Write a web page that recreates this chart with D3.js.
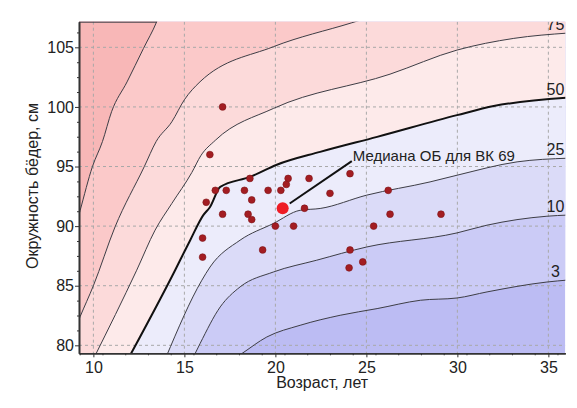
<!DOCTYPE html>
<html>
<head>
<meta charset="utf-8">
<script src="https://cdn.jsdelivr.net/npm/d3@7"></script>
<style>
  html, body { margin: 0; padding: 0; background: #fff; }
  svg { display: block; font-family: "Liberation Sans", Arial, sans-serif; }
</style>
</head>
<body>
<svg id="chart" width="577" height="408"></svg>
<script>
// Percentile curves of hip circumference (cm) against age (years), as [age, cm]
const p3  = [[17.85,79.0],[18.15,79.3],[19.53,80.7],[21.36,81.68],[23.56,82.52],[25.59,83.08],[27.97,83.78],[29.98,83.97],[31.63,84.48],[34.92,85.31],[36.1,85.48]];
const p10 = [[15.49,79.0],[15.86,80.14],[16.97,83.22],[18.06,84.9],[19.89,86.15],[22.27,87.14],[25.02,88.25],[29.98,89.43],[31.63,90.08],[34.92,90.83],[36.1,90.93]];
const p25 = [[13.99,79.0],[15.96,85.46],[16.41,86.57],[18.06,88.82],[19.89,90.22],[21.36,91.33],[22.46,91.48],[25.02,92.6],[28.5,93.71],[29.98,94.27],[33.28,95.39],[36.1,95.7]];
const p50 = [[11.96,79.0],[14.49,86.3],[15.04,87.98],[15.32,88.82],[16.04,90.92],[16.41,91.61],[16.97,93.29],[18.61,94.13],[20.08,95.15],[22.46,96.23],[25.59,97.49],[29.98,99.31],[32.0,100.07],[36.1,100.78]];
const p75 = [[10.05,79.0],[12.38,86.3],[13.39,89.66],[14.31,91.9],[15.41,94.5],[15.9,95.9],[16.7,97.2],[19.89,99.87],[26.3,102.75],[29.98,104.77],[33.1,105.75],[36.1,106.2]];
const p90 = [[9.0,81.4],[9.27,82.4],[10.0,85.0],[11.19,89.93],[12.8,95.0],[13.45,97.1],[14.31,98.75],[15.0,100.6],[15.86,102.11],[19.89,105.05],[24.2,107.06],[24.6,107.25]];
const p97 = [[9.0,89.8],[9.27,91.3],[9.95,95.0],[10.5,97.1],[11.0,99.6],[11.85,102.1],[12.75,104.9],[13.48,107.15],[13.6,107.6]];

const curveNames  = ["3", "10", "25", "50", "75", "90", "97"];
const curveData   = [p3, p10, p25, p50, p75, p90, p97];
const labelledCurves = ["75", "50", "25", "10", "3"];
// fill below the 3rd percentile, then above each curve in turn
const bandColors  = ["#bcbcf3", "#cbcbf6", "#dbdbf8", "#ececfb", "#fdeaea", "#fcdada", "#fbc9c9", "#f8b7b7"];

const xTicks = [10, 15, 20, 25, 30, 35];
const yTicks = [80, 85, 90, 95, 100, 105];

// individual athletes: age (years) and hip circumference (cm)
const ages = [17.1,16.4,18.6,20.7,21.85,24.1,20.6,16.7,17.3,18.3,19.6,20.3,23.0,26.2,16.2,18.7,21.6,17.1,18.5,18.7,26.3,29.1,20.0,21.0,25.4,16.0,19.3,24.1,24.8,24.05,16.0];
const hips = [100.0,96.0,94.0,94.0,94.0,94.4,93.5,93.0,93.0,93.0,93.0,93.0,92.75,93.0,92.0,92.2,91.5,91.0,91.0,90.55,91.0,91.0,90.0,90.0,90.0,89.0,88.0,88.0,87.0,86.5,87.4];

const medianAge = 20.4, medianHip = 91.5;
const medianText = "Медиана ОБ для ВК 69";
const medianTextAt = [24.2, 95.45];

const xTitle = "Возраст, лет";
const yTitle = "Окружность бёдер, см";

// ---- layout ----
const W = 577, H = 408;
const m = { left: 79, right: 11.7, top: 21.7, bottom: 54.7 };
const svg = d3.select("#chart");

const x = d3.scaleLinear().domain([9.21, 35.93]).range([m.left, W - m.right]);
const y = d3.scaleLinear().domain([79.33, 107.15]).range([H - m.bottom, m.top]);
const [x0, x1] = x.range(), [y0, y1] = y.range();

svg.append("defs").append("clipPath").attr("id", "plot")
  .append("rect").attr("x", x0).attr("y", y1).attr("width", x1 - x0).attr("height", y0 - y1);

const plot = svg.append("g").attr("clip-path", "url(#plot)");

const line = d3.line().x(d => x(d[0])).y(d => y(d[1])).curve(d3.curveMonotoneX);

// bands
plot.append("rect").attr("x", x0).attr("y", y1).attr("width", x1 - x0).attr("height", y0 - y1)
  .attr("fill", bandColors[0]);
curveData.forEach((c, i) => {
  const close = `L${x(50)},${y(140)}L${x(0)},${y(140)}L${x(0)},${y(60)}Z`;
  plot.append("path").attr("d", line(c) + close).attr("fill", bandColors[i + 1]);
});

// dashed grid
plot.append("g").selectAll("line").data(xTicks).join("line")
  .attr("x1", d => x(d)).attr("x2", d => x(d)).attr("y1", y1).attr("y2", y0)
  .attr("stroke", "#a8a8a8").attr("stroke-width", 1).attr("stroke-dasharray", "3,3");
plot.append("g").selectAll("line").data(yTicks).join("line")
  .attr("y1", d => y(d)).attr("y2", d => y(d)).attr("x1", x0).attr("x2", x1)
  .attr("stroke", "#a8a8a8").attr("stroke-width", 1).attr("stroke-dasharray", "3,3");

// percentile curves
curveData.forEach((c, i) => {
  const median = curveNames[i] === "50";
  plot.append("path").attr("d", line(c)).attr("fill", "none")
    .attr("stroke", median ? "#111" : "#3d3d45")
    .attr("stroke-width", median ? 2 : 1);
});

// top edge of the outermost band
(function () {
  const top = y.domain()[1];
  let cross = null;
  for (let k = 1; k < p97.length; k++) {
    const a = p97[k - 1], b = p97[k];
    if (a[1] <= top && b[1] >= top) { cross = a[0] + (b[0] - a[0]) * (top - a[1]) / (b[1] - a[1]); break; }
  }
  if (cross !== null) {
    svg.append("line").attr("x1", x0).attr("x2", x(cross)).attr("y1", y1 + 0.5).attr("y2", y1 + 0.5)
      .attr("stroke", "#3d3d45").attr("stroke-width", 1);
  }
})();

// curve labels at the right edge
function valueAt(c, a) {
  for (let k = 1; k < c.length; k++) {
    if (c[k][0] >= a) {
      const p = c[k - 1], q = c[k];
      return p[1] + (q[1] - p[1]) * (a - p[0]) / (q[0] - p[0]);
    }
  }
  return c[c.length - 1][1];
}
const labelAge = x.invert(555.5);
plot.append("g").selectAll("text").data(labelledCurves).join("text")
  .attr("x", x(labelAge))
  .attr("y", d => y(valueAt(curveData[curveNames.indexOf(d)], labelAge)) - 4)
  .attr("text-anchor", "middle").attr("font-size", 16).attr("fill", "#222")
  .text(d => d);

// athletes
svg.append("g").selectAll("circle").data(ages.map((a, i) => [a, hips[i]])).join("circle")
  .attr("cx", d => x(d[0])).attr("cy", d => y(d[1])).attr("r", 3.4)
  .attr("fill", "#a31d22").attr("stroke", "#7e1216").attr("stroke-width", 0.6);

// median marker with its leader
const mx = x(medianAge), my = y(medianHip);
const tx = x(medianTextAt[0]), ty = y(medianTextAt[1]);
const ang = Math.atan2(ty - my, tx - mx);
svg.append("line")
  .attr("x1", mx + Math.cos(ang) * 8.5).attr("y1", my + Math.sin(ang) * 8.5)
  .attr("x2", tx).attr("y2", ty)
  .attr("stroke", "#111").attr("stroke-width", 2);
svg.append("circle").attr("cx", mx).attr("cy", my).attr("r", 6)
  .attr("fill", "#ee1c25");
svg.append("text").attr("x", tx + 1).attr("y", ty - 0.5)
  .attr("font-size", 15).attr("fill", "#222").text(medianText);

// axes
const axisColor = "#333";
const minorX = d3.range(9.25, 36, 1.25).filter(v => !xTicks.includes(v));
const minorY = d3.range(78.75, 107.2, 1.25).filter(v => v >= 79.33 && !yTicks.includes(v));

const gx = svg.append("g").attr("transform", `translate(0,${y0})`)
  .call(d3.axisBottom(x).tickValues(xTicks).tickSize(4).tickSizeOuter(0).tickPadding(4.5));
const gxm = svg.append("g").attr("transform", `translate(0,${y0})`)
  .call(d3.axisBottom(x).tickValues(minorX).tickSize(2).tickSizeOuter(0).tickFormat(""));
const gy = svg.append("g").attr("transform", `translate(${x0},0)`)
  .call(d3.axisLeft(y).tickValues(yTicks).tickSize(4).tickSizeOuter(0).tickPadding(1));
const gym = svg.append("g").attr("transform", `translate(${x0},0)`)
  .call(d3.axisLeft(y).tickValues(minorY).tickSize(2).tickSizeOuter(0).tickFormat(""));

[gx, gxm, gy, gym].forEach(g => {
  g.selectAll("path.domain").attr("stroke", axisColor).attr("stroke-width", 1.6);
  g.selectAll(".tick line").attr("stroke", axisColor).attr("stroke-width", 1);
  g.selectAll(".tick text").attr("font-size", 16).attr("fill", "#222")
    .attr("font-family", "'Liberation Sans', Arial, sans-serif");
});

svg.append("text").attr("x", (x0 + x1) / 2).attr("y", 388)
  .attr("text-anchor", "middle").attr("font-size", 16).attr("fill", "#222").text(xTitle);
svg.append("text").attr("transform", `translate(38.3,${(y0 + y1) / 2 - 1.5}) rotate(-90)`)
  .attr("text-anchor", "middle").attr("font-size", 16).attr("fill", "#222").text(yTitle);
</script>
</body>
</html>
